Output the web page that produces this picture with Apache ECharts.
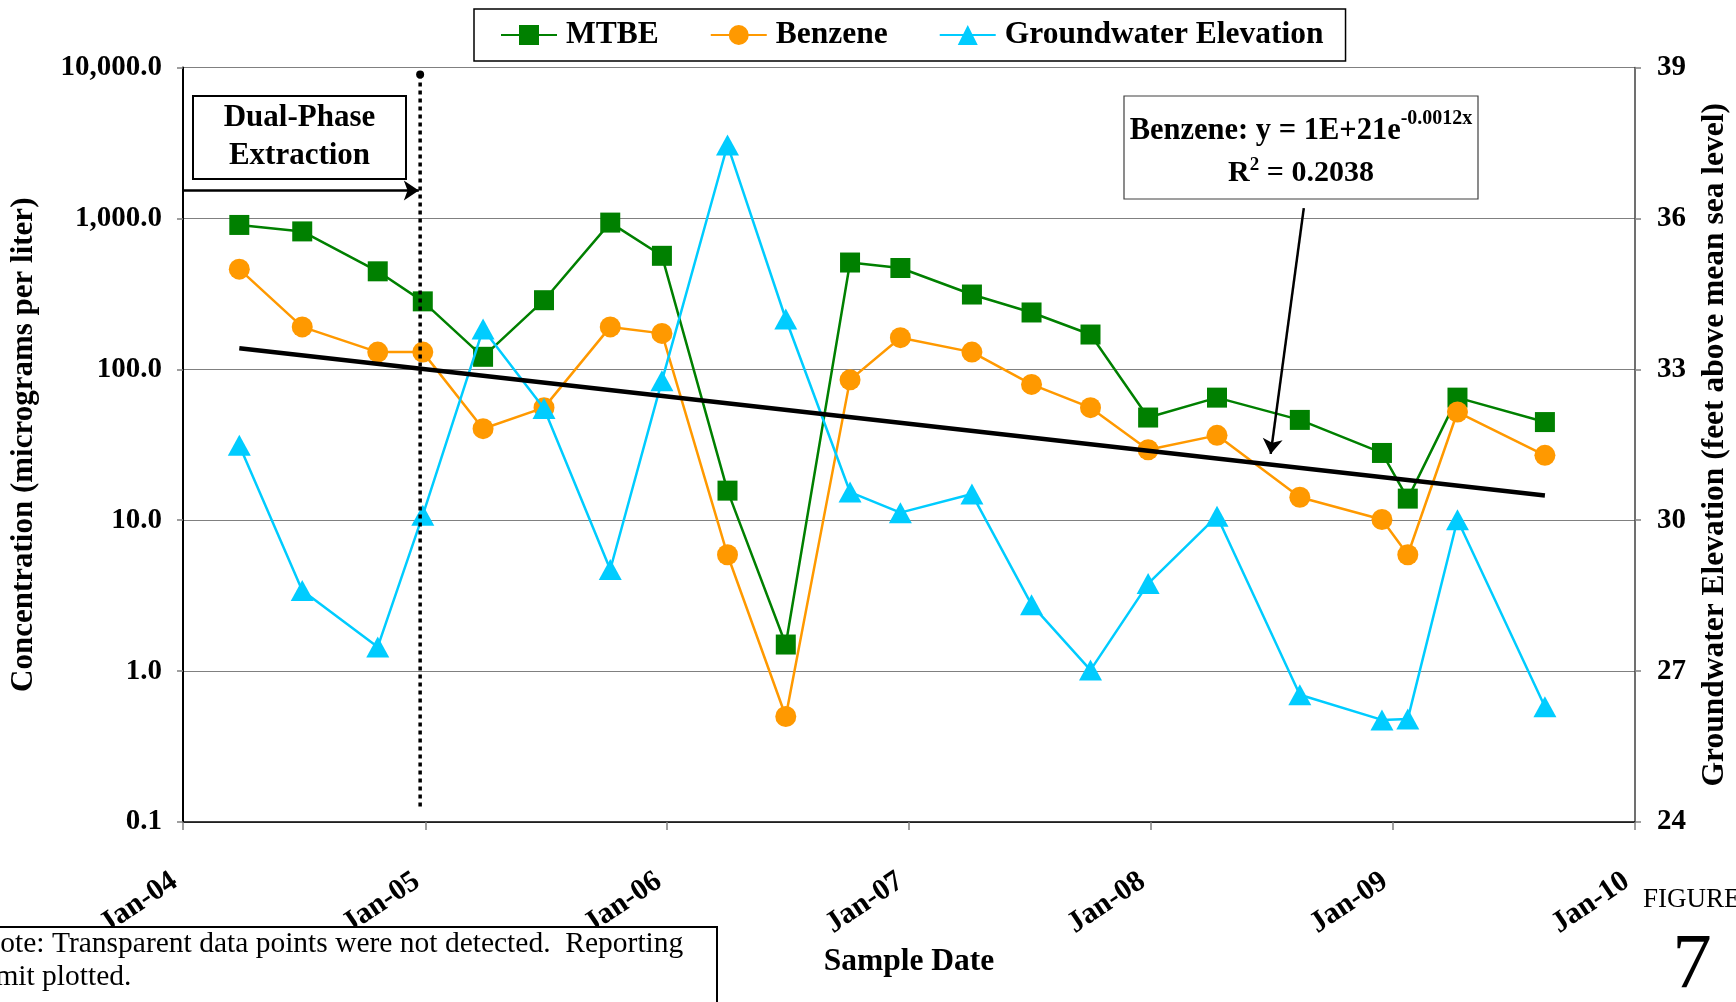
<!DOCTYPE html>
<html>
<head>
<meta charset="utf-8">
<script src="https://cdn.jsdelivr.net/npm/echarts@6/dist/echarts.min.js"></script>
<style>
html,body{margin:0;padding:0;background:#fff;}
#chart{width:1736px;height:1002px;}
</style>
</head>
<body>
<div id="chart"></div>
<script>
// ---- data ----
const sampleDates = ['2004-03-26','2004-06-29','2004-10-21','2004-12-28','2005-03-29','2005-06-29','2005-10-07','2005-12-24','2006-04-02','2006-06-29','2006-10-04','2006-12-19','2007-04-06','2007-07-05','2007-10-02','2007-12-28','2008-04-10','2008-08-13','2008-12-15','2009-01-23','2009-04-08','2009-08-18'];
const mtbe = [905, 820, 446, 282, 121, 287, 938, 565, 15.7, 1.5, 510, 469, 313, 238, 170, 47.9, 64.9, 46.2, 27.9, 13.9, 64.9, 44.7];
const benzene = [461, 191, 130, 130, 40.4, 55.7, 191, 173, 5.9, 0.5, 85.1, 162, 130, 79.4, 55.7, 29.3, 36.5, 14.2, 10.1, 5.9, 52.1, 26.9];
const groundwater = [31.49, 28.60, 27.48, 30.10, 33.80, 32.22, 29.02, 32.77, 37.46, 34.00, 30.56, 30.15, 30.52, 28.32, 27.02, 28.74, 30.08, 26.53, 26.03, 26.05, 30.01, 26.29];
const trendDates = ['2004-03-26', '2009-08-18'];
const trendValues = [138, 14.6];
const dpeDate = '2004-12-24';
const dpeRange = [9000, 0.125];
const xTickLabels = ['Jan-04','Jan-05','Jan-06','Jan-07','Jan-08','Jan-09','Jan-10'];
const leftTickLabels = ['0.1','1.0','10.0','100.0','1,000.0','10,000.0'];
const rightTicks = [24, 27, 30, 33, 36, 39];
const seriesNames = ['MTBE', 'Benzene', 'Groundwater Elevation'];

const FONT = 'Liberation Serif';
const chart = echarts.init(document.getElementById('chart'), null, {renderer: 'canvas'});

function pairs(xs, ys) { return xs.map((d, i) => [d, ys[i]]); }

const option = {
  animation: false,
  backgroundColor: '#ffffff',
  textStyle: {fontFamily: FONT},
  grid: {left: 183, right: 101, top: 67.5, bottom: 180, containLabel: false, outerBoundsMode: 'none'},
  legend: {
    data: seriesNames,
    left: 474, top: 9,
    padding: [10, 22, 10, 26],
    itemGap: 51,
    itemWidth: 56, itemHeight: 25,
    borderColor: '#000', borderWidth: 1.5,
    textStyle: {fontFamily: FONT, fontWeight: 'bold', fontSize: 31.5, color: '#000', padding: [0, 0, 0, 4]}
  },
  xAxis: {
    type: 'time',
    min: '2004-01-01', max: '2010-01-01',
    splitNumber: 6,
    name: 'Sample Date', nameLocation: 'middle', nameGap: 119,
    nameTextStyle: {fontFamily: FONT, fontWeight: 'bold', fontSize: 31.5, color: '#000'},
    axisLine: {lineStyle: {color: '#000', width: 1.5}},
    axisTick: {show: true, length: 8, lineStyle: {color: '#808080', width: 1.5}},
    splitLine: {show: false},
    minorTick: {show: false},
    axisLabel: {
      rotate: 34, margin: 51, padding: [0, 10, 0, 0],
      showMinLabel: true, showMaxLabel: true, hideOverlap: false,
      fontFamily: FONT, fontWeight: 'bold', fontSize: 30, color: '#000',
      formatter: function (v) {
        const idx = new Date(v).getFullYear() - 2004;
        return xTickLabels[idx] !== undefined ? xTickLabels[idx] : '';
      }
    }
  },
  yAxis: [{
    type: 'log', logBase: 10, min: 0.1, max: 10000,
    name: 'Concentration (micrograms per liter)', nameLocation: 'middle', nameRotate: 90, nameGap: 144,
    nameTextStyle: {fontFamily: FONT, fontWeight: 'bold', fontSize: 31, color: '#000'},
    axisLine: {show: true, lineStyle: {color: '#000', width: 2}},
    axisTick: {show: true, length: 6, lineStyle: {color: '#808080', width: 1.5}},
    splitLine: {show: true, lineStyle: {color: '#808080', width: 1.2}},
    axisLabel: {
      margin: 21, fontFamily: FONT, fontWeight: 'bold', fontSize: 29, color: '#000',
      formatter: function (v) {
        const idx = Math.round(Math.log10(v)) + 1;
        return leftTickLabels[idx];
      }
    }
  }, {
    type: 'value', min: rightTicks[0], max: rightTicks[rightTicks.length - 1], interval: 3,
    position: 'right',
    name: 'Groundwater Elevation (feet above mean sea level)', nameLocation: 'middle', nameRotate: 90, nameGap: 64,
    nameTextStyle: {fontFamily: FONT, fontWeight: 'bold', fontSize: 31.5, color: '#000'},
    axisLine: {show: true, lineStyle: {color: '#404040', width: 1.5}},
    axisTick: {show: true, length: 6, lineStyle: {color: '#808080', width: 1.5}},
    splitLine: {show: false},
    axisLabel: {margin: 22, fontFamily: FONT, fontWeight: 'bold', fontSize: 29, color: '#000'}
  }],
  series: [{
    name: 'MTBE', type: 'line', yAxisIndex: 0,
    data: pairs(sampleDates, mtbe),
    symbol: 'rect', symbolSize: 20,
    lineStyle: {color: '#008000', width: 2.5},
    itemStyle: {color: '#008000'},
    z: 3
  }, {
    name: 'Benzene', type: 'line', yAxisIndex: 0,
    data: pairs(sampleDates, benzene),
    symbol: 'circle', symbolSize: 21,
    lineStyle: {color: '#FF9900', width: 2.5},
    itemStyle: {color: '#FF9900'},
    z: 4
  }, {
    name: 'Groundwater Elevation', type: 'line', yAxisIndex: 1,
    data: pairs(sampleDates, groundwater),
    symbol: 'triangle', symbolSize: [23, 21],
    lineStyle: {color: '#00CCFF', width: 2.5},
    itemStyle: {color: '#00CCFF'},
    z: 5
  }, {
    name: 'Benzene trend', type: 'line', yAxisIndex: 0,
    data: pairs(trendDates, trendValues),
    symbol: 'none',
    lineStyle: {color: '#000', width: 4.5},
    z: 6,
    markLine: {
      silent: true,
      symbol: ['none', 'arrow'], symbolSize: 15,
      label: {show: false},
      lineStyle: {color: '#000', width: 2.5, type: 'solid'},
      data: [
        [{coord: ['2004-01-01', 1533]}, {coord: ['2004-12-22', 1533]}],
        [{coord: ['2008-08-19', 1170]}, {coord: ['2008-06-30', 27.5]}]
      ]
    }
  }, {
    name: 'Dual-Phase line', type: 'line', yAxisIndex: 0,
    data: [{value: [dpeDate, dpeRange[0]], symbol: 'circle', symbolSize: 8}, {value: [dpeDate, dpeRange[1]], symbol: 'none'}],
    itemStyle: {color: '#000'},
    lineStyle: {color: '#000', width: 3.5, type: [4, 4]},
    z: 7
  }],
  graphic: [
    {type: 'rect', shape: {x: 193, y: 96, width: 213, height: 83}, style: {fill: '#fff', stroke: '#000', lineWidth: 2}, z: 20},
    {type: 'text', x: 299.5, y: 136.5, style: {text: 'Dual-Phase\nExtraction', fontFamily: FONT, fontWeight: 'bold', fontSize: 31, lineHeight: 38, fill: '#000', align: 'center', verticalAlign: 'middle'}, z: 21},
    {type: 'rect', shape: {x: 1124, y: 96, width: 354, height: 103}, style: {fill: '#fff', stroke: '#404040', lineWidth: 1.2}, z: 20},
    {type: 'text', x: 1301, y: 128, style: {
      text: '{b|Benzene: y = 1E+21e}{s|-0.0012x}',
      rich: {b: {fontFamily: FONT, fontWeight: 'bold', fontSize: 30.5, fill: '#000', verticalAlign: 'bottom'}, s: {fontFamily: FONT, fontWeight: 'bold', fontSize: 20, fill: '#000', verticalAlign: 'top', padding: [0, 0, 18, 0]}},
      align: 'center', verticalAlign: 'middle'}, z: 21},
    {type: 'text', x: 1301, y: 173, style: {
      text: '{b|R}{s|2}{b| = 0.2038}',
      rich: {b: {fontFamily: FONT, fontWeight: 'bold', fontSize: 30, fill: '#000'}, s: {fontFamily: FONT, fontWeight: 'bold', fontSize: 19, fill: '#000', padding: [0, 0, 16, 0]}},
      align: 'center', verticalAlign: 'middle'}, z: 21},
    {type: 'rect', shape: {x: -2, y: 927, width: 719, height: 100}, style: {fill: '#fff', stroke: '#000', lineWidth: 2}, z: 20},
    {type: 'text', x: -21, y: 928, style: {text: 'Note: Transparent data points were not detected.  Reporting\nlimit plotted.', fontFamily: FONT, fontSize: 29.5, lineHeight: 33, fill: '#000', align: 'left', verticalAlign: 'top'}, z: 21},
    {type: 'text', x: 1643, y: 900, style: {text: 'FIGURE', fontFamily: FONT, fontSize: 27, fill: '#000', align: 'left', verticalAlign: 'middle'}, z: 21},
    {type: 'text', x: 1692, y: 966, style: {text: '7', fontFamily: FONT, fontSize: 79, fill: '#000', align: 'center', verticalAlign: 'middle'}, z: 21}
  ]
};
chart.setOption(option);
</script>
</body>
</html>
